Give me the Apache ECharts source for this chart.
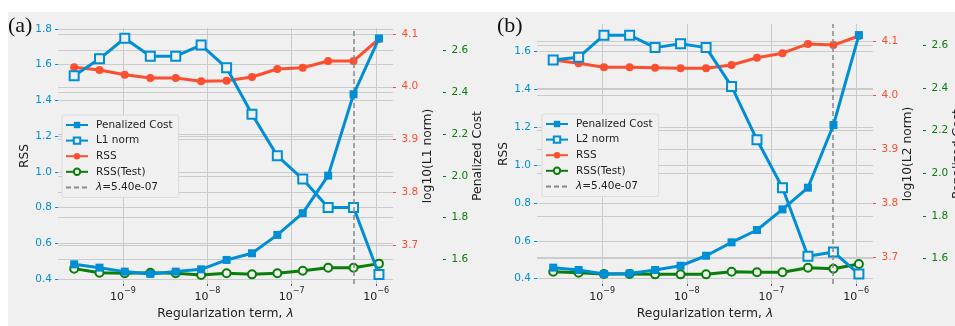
<!DOCTYPE html>
<html><head><meta charset="utf-8">
<script src="https://cdn.jsdelivr.net/npm/echarts@6/dist/echarts.min.js"></script>
<style>html,body{margin:0;padding:0;background:#fff}#c{width:955px;height:326px}</style>
</head><body><div id="c"></div>
<script>
// ---- data ----
const lambdas = [2.64e-10, 5.27e-10, 1.05e-9, 2.11e-9, 4.22e-9, 8.44e-9, 1.69e-8, 3.38e-8, 6.75e-8, 1.35e-7, 2.70e-7, 5.40e-7, 1.08e-6];
const lambdaStar = 5.40e-7;
// panel (a)
const costA    = [1.576, 1.560, 1.541, 1.530, 1.541, 1.552, 1.597, 1.629, 1.717, 1.821, 2.001, 2.391, 2.659];
const l1NormA  = [4.021, 4.053, 4.092, 4.058, 4.058, 4.079, 4.036, 3.948, 3.869, 3.825, 3.771, 3.771, 3.644];
const rssA     = [1.586, 1.570, 1.544, 1.526, 1.526, 1.507, 1.510, 1.531, 1.576, 1.583, 1.621, 1.621, 1.744];
const rssTestA = [0.458, 0.435, 0.432, 0.435, 0.432, 0.422, 0.432, 0.426, 0.432, 0.446, 0.463, 0.463, 0.486];
// panel (b)
const costB    = [1.556, 1.545, 1.526, 1.529, 1.545, 1.565, 1.612, 1.675, 1.733, 1.830, 1.932, 2.227, 2.650];
const l2NormB  = [4.066, 4.071, 4.112, 4.112, 4.089, 4.096, 4.089, 4.017, 3.918, 3.829, 3.702, 3.710, 3.669];
const rssB     = [1.556, 1.539, 1.518, 1.518, 1.515, 1.512, 1.512, 1.530, 1.568, 1.592, 1.641, 1.635, 1.683];
const rssTestB = [0.437, 0.432, 0.425, 0.425, 0.423, 0.423, 0.423, 0.437, 0.434, 0.434, 0.458, 0.453, 0.478];
// tick labels
const xTickExponents = [-9, -8, -7, -6];
const rssTicks = [0.4, 0.6, 0.8, 1.0, 1.2, 1.4, 1.6, 1.8];
const logNormTicks = [3.7, 3.8, 3.9, 4.0, 4.1];
const costTicks = [1.6, 1.8, 2.0, 2.2, 2.4, 2.6];

// ---- styling ----
const FONT = 'DejaVu Sans';
const BLUE = '#008fd5', RED = '#fc4f30', GREEN = '#0a7d0a', GRIDC = '#cbcbcb', BG = '#f0f0f0', TXT = '#222';

function fmtExp(v) {
  const parts = v.toExponential(2).split('e');
  const n = parseInt(parts[1], 10);
  return parts[0] + 'e' + (n < 0 ? '-' : '+') + String(Math.abs(n)).padStart(2, '0');
}
const vlineName = 'λ=' + fmtExp(lambdaStar);
const xs = lambdas.map(Math.log10);
const pts = vals => vals.map((v, i) => [xs[i], v]);

function yAx(gridIndex, position, offset, name, min, max, ticks, color) {
  return {
    type: 'value', gridIndex, position, offset, min, max,
    name, nameLocation: 'middle', nameGap: 27, nameRotate: 90,
    nameTextStyle: { fontFamily: FONT, fontSize: 12.3, color: TXT },
    axisLine: { show: false },
    axisTick: { show: true, customValues: ticks, length: 3, lineStyle: { color, width: 1 } },
    axisLabel: { customValues: ticks, margin: position === 'left' ? 6 : 8.5, color, fontFamily: FONT, fontSize: 10.5,
      formatter: v => v.toFixed(1) },
    splitLine: { show: true, lineStyle: { color: GRIDC, width: 1 } }
  };
}
function xAx(gridIndex) {
  return {
    type: 'value', gridIndex, min: -9.77, max: -5.80,
    name: 'Regularization term, {i|λ}', nameLocation: 'middle', nameGap: 20,
    nameTextStyle: { fontFamily: FONT, fontSize: 12.3, color: TXT,
      rich: { i: { fontFamily: FONT, fontSize: 12.3, fontStyle: 'italic', color: TXT } } },
    axisLine: { show: false },
    axisTick: { show: true, customValues: xTickExponents, length: 2, lineStyle: { color: '#555' } },
    axisLabel: { customValues: xTickExponents, margin: 3,
      formatter: v => '{b|10}{s|\u2212' + Math.abs(v) + '}',
      rich: {
        b: { fontFamily: FONT, fontSize: 11, color: TXT, verticalAlign: 'bottom', lineHeight: 16 },
        s: { fontFamily: FONT, fontSize: 8, color: TXT, verticalAlign: 'top', lineHeight: 16 }
      } },
    splitLine: { show: true, lineStyle: { color: GRIDC, width: 1 } }
  };
}
function filledSq(name, vals, xi, yi) {
  return { name, type: 'line', xAxisIndex: xi, yAxisIndex: yi, data: pts(vals), z: 5,
    symbol: 'rect', symbolSize: 8, itemStyle: { color: BLUE }, lineStyle: { color: BLUE, width: 3 } };
}
function openSq(name, vals, xi, yi) {
  return { name, type: 'line', xAxisIndex: xi, yAxisIndex: yi, data: pts(vals), z: 4,
    symbol: 'rect', symbolSize: 9, itemStyle: { color: BG, borderColor: BLUE, borderWidth: 2 },
    lineStyle: { color: BLUE, width: 3 } };
}
function redC(name, vals, xi, yi) {
  return { name, type: 'line', xAxisIndex: xi, yAxisIndex: yi, data: pts(vals), z: 3,
    symbol: 'circle', symbolSize: 8, itemStyle: { color: RED }, lineStyle: { color: RED, width: 3 } };
}
function greenC(name, vals, xi, yi) {
  return { name, type: 'line', xAxisIndex: xi, yAxisIndex: yi, data: pts(vals), z: 3,
    symbol: 'circle', symbolSize: 8, itemStyle: { color: BG, borderColor: GREEN, borderWidth: 2 },
    lineStyle: { color: GREEN, width: 3 } };
}
function vline(xi, yi) {
  return { name: vlineName, type: 'line', xAxisIndex: xi, yAxisIndex: yi, data: [], z: 2,
    symbol: 'none', lineStyle: { color: '#888', type: [5, 3], width: 1.5 }, itemStyle: { color: '#888' },
    markLine: { silent: true, symbol: ['none', 'none'], label: { show: false }, animation: false,
      lineStyle: { color: '#888', type: [5, 3], width: 1.5 },
      data: [{ xAxis: Math.log10(lambdaStar) }] } };
}
function legend(left, top, normName) {
  return {
    orient: 'vertical', left, top, itemWidth: 22, itemHeight: 8, itemGap: 1.6,
    padding: [3, 6, 3, 3], backgroundColor: BG, borderColor: '#dcdcdc', borderWidth: 1, borderRadius: 2,
    data: ['Penalized Cost', normName, 'RSS', 'RSS(Test)', { name: vlineName, itemStyle: { opacity: 0 } }],
    formatter: n => n.charAt(0) === 'λ' ? '{i|λ}' + n.slice(1) : n,
    textStyle: { fontFamily: FONT, fontSize: 10.5, color: TXT, lineHeight: 14, padding: [0, 0, 0, 3],
      rich: { i: { fontFamily: FONT, fontSize: 10.5, fontStyle: 'italic', color: TXT } } }
  };
}

const option = {
  backgroundColor: BG,
  animation: false,
  grid: [
    { left: 58, top: 28, width: 335, height: 256, outerBoundsMode: 'none', containLabel: false },
    { left: 537, top: 24, width: 336, height: 260, outerBoundsMode: 'none', containLabel: false }
  ],
  xAxis: [xAx(0), xAx(1)],
  yAxis: [
    yAx(0, 'left', 0, 'RSS', 0.372, 1.8056, rssTicks, BLUE),
    yAx(0, 'right', 0, 'log10(L1 norm)', 3.6261, 4.1114, logNormTicks, RED),
    yAx(0, 'right', 50, 'Penalized Cost', 1.4816, 2.7088, costTicks, GREEN),
    yAx(1, 'left', 0, 'RSS', 0.372, 1.7464, rssTicks, BLUE),
    yAx(1, 'right', 0, 'log10(L2 norm)', 3.6505, 4.1328, logNormTicks, RED),
    yAx(1, 'right', 50, 'Penalized Cost', 1.4791, 2.7021, costTicks, GREEN)
  ],
  legend: [legend(62, 115, 'L1 norm'), legend(542, 114, 'L2 norm')],
  series: [
    filledSq('Penalized Cost', costA, 0, 2),
    openSq('L1 norm', l1NormA, 0, 1),
    redC('RSS', rssA, 0, 0),
    greenC('RSS(Test)', rssTestA, 0, 0),
    vline(0, 0),
    filledSq('Penalized Cost', costB, 1, 5),
    openSq('L2 norm', l2NormB, 1, 4),
    redC('RSS', rssB, 1, 3),
    greenC('RSS(Test)', rssTestB, 1, 3),
    vline(1, 3)
  ],
  graphic: [
    { type: 'rect', silent: true, z: -10, shape: { x: 0, y: 0, width: 955, height: 12 }, style: { fill: '#fff' } },
    { type: 'rect', silent: true, z: -10, shape: { x: 0, y: 0, width: 8, height: 326 }, style: { fill: '#fff' } },
    { type: 'text', x: 8, y: 26, style: { text: '(a)', fontFamily: 'Liberation Serif', fontSize: 22, verticalAlign: 'middle', fill: '#111' } },
    { type: 'text', x: 497, y: 26, style: { text: '(b)', fontFamily: 'Liberation Serif', fontSize: 22, verticalAlign: 'middle', fill: '#111' } }
  ]
};
const chart = echarts.init(document.getElementById('c'), null, { renderer: 'canvas' });
chart.setOption(option);
</script>
</body></html>
